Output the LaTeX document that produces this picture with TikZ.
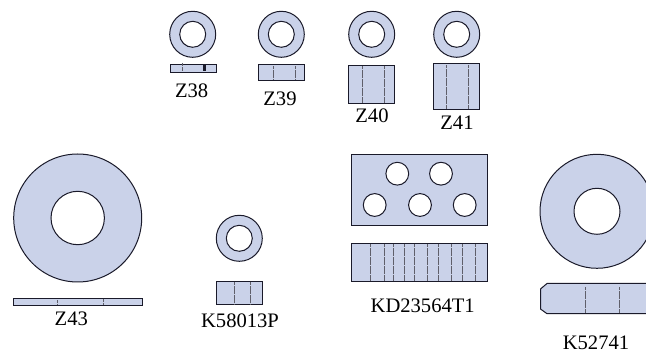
\documentclass[tikz,border=0pt]{standalone}
\usepackage{fontspec}
\setmainfont{Liberation Serif}
\definecolor{part}{HTML}{CAD2E9}
\definecolor{edge}{HTML}{1A1A2A}
\tikzset{
  x=1pt,y=-1pt,
  body/.style={draw=edge,fill=part,line width=1pt},
  hole/.style={draw=edge,fill=white,line width=1pt},
  seam/.style={draw=edge!70,line width=0.7pt,dash pattern=on 1.6pt off 0.2pt},
  lab/.style={inner sep=0pt,font=\fontsize{20.6}{22}\selectfont,text=black}
}
\newcommand{\ring}[4]{\draw[body] (#1,#2) circle[radius=#3];\draw[hole] (#1,#2) circle[radius=#4];}
\begin{document}
\begin{tikzpicture}
\useasboundingbox (0,0) rectangle (646,352);
% top row rings
\ring{192.7}{34.3}{23}{13}
\ring{281.3}{34.3}{23}{13}
\ring{371.7}{34.3}{23}{13}
\ring{456.7}{34.3}{23}{13}
% Z38
\draw[body] (170.3,64.7) rectangle (216,72.2);
\draw[seam] (182.7,63) -- (182.7,71);
\draw[edge,line width=2.6pt] (204.4,65) -- (204.4,71.5);
\node[lab] (z38) at (191.7,90.7) {Z38};
% Z39
\draw[body] (258.5,65) rectangle (304.5,80.5);
\draw[seam] (273.7,66) -- (273.7,80);
\draw[seam] (295.7,66) -- (295.7,80);
\node[lab] (z39) at (280,99) {Z39};
% Z40
\draw[body] (348.7,65.3) rectangle (394.3,104);
\draw[seam] (362.8,66) -- (362.8,103);
\draw[seam] (384,66) -- (384,103);
\node[lab] (z40) at (372,116) {Z40};
% Z41
\draw[body] (433.8,64) rectangle (479.4,109.7);
\draw[seam] (446.8,65) -- (446.8,109);
\draw[seam] (468,65) -- (468,109);
\node[lab] (z41) at (457,122.5) {Z41};
% Z43
\ring{77.7}{218}{64}{26.7}
\draw[body] (13.6,298.5) rectangle (142,305.2);
\draw[seam] (57.3,300) -- (57.3,305);
\draw[seam] (103,299) -- (103,305);
\node[lab] (z43) at (71.3,319) {Z43};
% K58013P
\ring{239.3}{238.3}{23}{13}
\draw[body] (216.7,281.7) rectangle (262.3,304.3);
\draw[seam] (234,282) -- (234,304);
\draw[seam] (250,282) -- (250,304);
\node[lab] (k58) at (240,321) {K58013P};
% KD23564T1
\draw[body] (351.4,155) rectangle (487.7,225.3);
\draw[hole] (397.3,173.7) circle[radius=11.4];
\draw[hole] (441,173.7) circle[radius=11.4];
\draw[hole] (374.7,205) circle[radius=11.4];
\draw[hole] (420,205) circle[radius=11.4];
\draw[hole] (464.7,205) circle[radius=11.4];
\draw[body] (351.4,243.7) rectangle (487.7,281.7);
\foreach \x in {370.7,384,393.3,404,414.3,427.7,438.3,451.7,462.3,475.7}
  \draw[seam] (\x,244) -- (\x,281);
\node[lab] (kd) at (422.7,306) {KD23564T1};
% K52741
\ring{597}{211.3}{57}{23}
\draw[body] (547,283.5) -- (660,283.5) -- (660,313.7) -- (547,313.7) -- (540.5,309) -- (540.5,289) -- cycle;
\draw[seam] (585,287) -- (585,313);
\draw[seam] (619.7,287) -- (619.7,313);
\node[lab] (k52) at (596,342.5) {K52741};
\end{tikzpicture}
\end{document}
